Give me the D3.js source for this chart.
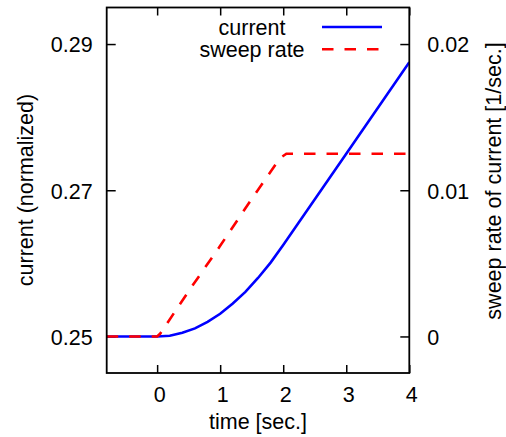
<!DOCTYPE html>
<html><head><meta charset="utf-8">
<script src="https://cdn.jsdelivr.net/npm/d3@7"></script>
<style>
html,body{margin:0;padding:0;background:#fff;}
svg text{font-family:"Liberation Sans",Arial,Helvetica,sans-serif;fill:#000;}
</style></head>
<body><svg id="c" width="506" height="437"></svg>
<script>
// data
const timeCurrent = [-0.8, 0, 0.2, 0.4, 0.6, 0.8, 1.0, 1.2, 1.4, 1.6, 1.8, 2.0, 3.0, 4.0];
const currentVals = [0.25, 0.25, 0.2501, 0.2505, 0.2511, 0.2520, 0.2531, 0.2545, 0.2561, 0.2580, 0.2601, 0.2625, 0.2750, 0.2875];
const timeRate = [-0.8, 0, 0.05, 0.5, 1.0, 1.5, 1.95, 2.05, 3.0, 4.0];
const rateVals = [0, 0, 0.0002, 0.0031, 0.0062, 0.0094, 0.0122, 0.0125, 0.0125, 0.0125];
const xTicks = [0, 1, 2, 3, 4];
const yLeftTicks = [0.25, 0.27, 0.29];
const yRightTicks = [0, 0.01, 0.02];
const seriesNames = ["current", "sweep rate"];
const seriesColors = ["#0000ff", "#ff0000"];

const L = 106.7, R = 409.3, T = 7.5, B = 373;
const FS = "21.5px";
const svg = d3.select("#c");
const x = d3.scaleLinear().domain([-0.8, 4]).range([L, R]);
const yL = d3.scaleLinear().domain([0.245, 0.295]).range([B, T]);
const yR = d3.scaleLinear().domain([-0.0025, 0.0225]).range([B, T]);

function styleAxis(g){
  g.select(".domain").remove();
  g.selectAll(".tick line").attr("stroke","#000").attr("stroke-width",1.5);
  g.selectAll(".tick text").style("font-size",FS).attr("fill","#000");
}
// bottom
svg.append("g").attr("transform",`translate(0,${B})`)
  .call(d3.axisBottom(x).tickValues(xTicks).tickFormat(d3.format("d")).tickSize(-8).tickPadding(14))
  .call(styleAxis)
  .call(g=>g.selectAll(".tick text").attr("dy","0.71em").attr("dx",2));
// top mirrored ticks
svg.append("g").attr("transform",`translate(0,${T})`)
  .call(d3.axisTop(x).tickValues(xTicks).tickSize(-8).tickFormat(""))
  .call(styleAxis);
// left
svg.append("g").attr("transform",`translate(${L},0)`)
  .call(d3.axisLeft(yL).tickValues(yLeftTicks).tickFormat(d3.format(".2f")).tickSize(-9).tickPadding(14))
  .call(styleAxis)
  .call(g=>g.selectAll(".tick text").attr("dy","0.36em"));
// right
svg.append("g").attr("transform",`translate(${R},0)`)
  .call(d3.axisRight(yR).tickValues(yRightTicks).tickFormat(d=>d===0?"0":d3.format(".2f")(d)).tickSize(-9).tickPadding(18))
  .call(styleAxis)
  .call(g=>g.selectAll(".tick text").attr("dy","0.36em"));

// series
const lineC = d3.line().x((d,i)=>x(timeCurrent[i])).y(d=>yL(d));
const lineR = d3.line().x((d,i)=>x(timeRate[i])).y(d=>yR(d));
const clip = svg.append("clipPath").attr("id","clp").append("rect")
  .attr("x",L).attr("y",T).attr("width",R-L).attr("height",B-T);
svg.append("path").datum(currentVals).attr("d",lineC).attr("fill","none")
  .attr("stroke",seriesColors[0]).attr("stroke-width",2.6).attr("clip-path","url(#clp)");
svg.append("path").datum(rateVals).attr("d",lineR).attr("fill","none")
  .attr("stroke",seriesColors[1]).attr("stroke-width",2.6).attr("stroke-dasharray","11.5,11")
  .attr("clip-path","url(#clp)");

// border
svg.append("rect").attr("x",L).attr("y",T).attr("width",R-L).attr("height",B-T)
  .attr("fill","none").attr("stroke","#000").attr("stroke-width",1.8);

// legend
const legY = [27, 49.3];
seriesNames.forEach((n,i)=>{
  svg.append("text").attr("x",252).attr("y",legY[i]).attr("dy","0.36em")
    .attr("text-anchor","middle").style("font-size",FS).text(n);
  svg.append("line").attr("x1",322).attr("x2",382).attr("y1",legY[i]).attr("y2",legY[i])
    .attr("stroke",seriesColors[i]).attr("stroke-width",2.6)
    .attr("stroke-dasharray", i===1 ? "11.5,11" : null);
});

// axis labels
svg.append("text").attr("x",258).attr("y",429).attr("text-anchor","middle")
  .style("font-size",FS).text("time [sec.]");
svg.append("text").attr("transform","translate(33,190) rotate(-90)").attr("text-anchor","middle")
  .style("font-size",FS).text("current (normalized)");
svg.append("text").attr("transform","translate(500.5,181) rotate(-90)").attr("text-anchor","middle")
  .style("font-size",FS).text("sweep rate of current [1/sec.]");
</script></body></html>
